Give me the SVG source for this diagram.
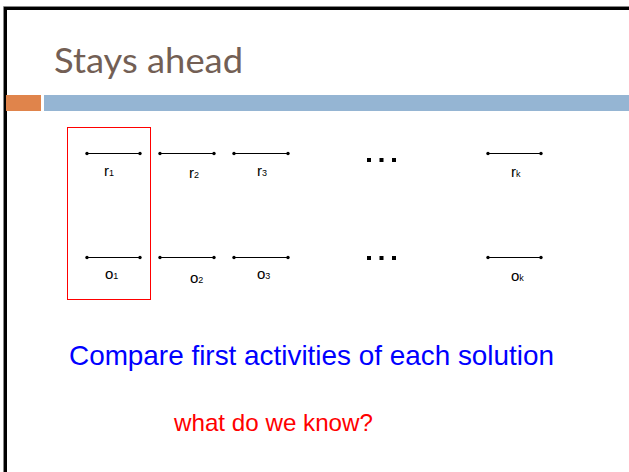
<svg xmlns="http://www.w3.org/2000/svg" width="629" height="472" viewBox="0 0 629 472">
  <style>
    .seg { stroke: #000; stroke-width: 1; fill: none; }
    .dot { fill: #000; }
    .lbl { font-family: "Liberation Sans", Arial, sans-serif; font-size: 15px; fill: #000; }
    .sub { font-size: 9px; }
    .ell { fill: #000; }
  </style>
  <rect x="0" y="0" width="629" height="472" fill="#fff"/>
  <g id="frame">
    <path d="M3.5,472 V6.5 H629" fill="none" stroke="#888" stroke-width="1"/>
    <path d="M5.5,472 V8.5 H629" fill="none" stroke="#000" stroke-width="3"/>
  </g>
  <g id="title">
    <text x="54" y="73" font-family="Lato, 'DejaVu Sans', sans-serif" font-size="34" fill="#735f55" textLength="189" lengthAdjust="spacingAndGlyphs">Stays ahead</text>
  </g>
  <g id="bars">
    <rect x="6" y="95" width="35" height="16" fill="#e0844b"/>
    <rect x="44" y="95" width="585" height="16" fill="#95b5d3"/>
  </g>
  <g id="highlight">
    <rect x="67.5" y="127.5" width="83" height="172" fill="none" stroke="#ff0000" stroke-width="1"/>
  </g>
  <g id="connectors">
    <g id="seg-r1"><line class="seg" x1="87" y1="153.5" x2="140" y2="153.5"/><circle class="dot" cx="87" cy="153.5" r="1.7"/><circle class="dot" cx="140" cy="153.5" r="1.7"/></g>
    <g id="seg-r2"><line class="seg" x1="160" y1="153.5" x2="214" y2="153.5"/><circle class="dot" cx="160" cy="153.5" r="1.7"/><circle class="dot" cx="214" cy="153.5" r="1.7"/></g>
    <g id="seg-r3"><line class="seg" x1="234" y1="153.5" x2="288" y2="153.5"/><circle class="dot" cx="234" cy="153.5" r="1.7"/><circle class="dot" cx="288" cy="153.5" r="1.7"/></g>
    <g id="seg-rk"><line class="seg" x1="488" y1="153.5" x2="541" y2="153.5"/><circle class="dot" cx="488" cy="153.5" r="1.7"/><circle class="dot" cx="541" cy="153.5" r="1.7"/></g>
    <g id="seg-o1"><line class="seg" x1="87" y1="257.5" x2="140" y2="257.5"/><circle class="dot" cx="87" cy="257.5" r="1.7"/><circle class="dot" cx="140" cy="257.5" r="1.7"/></g>
    <g id="seg-o2"><line class="seg" x1="160" y1="257.5" x2="214" y2="257.5"/><circle class="dot" cx="160" cy="257.5" r="1.7"/><circle class="dot" cx="214" cy="257.5" r="1.7"/></g>
    <g id="seg-o3"><line class="seg" x1="234" y1="257.5" x2="288" y2="257.5"/><circle class="dot" cx="234" cy="257.5" r="1.7"/><circle class="dot" cx="288" cy="257.5" r="1.7"/></g>
    <g id="seg-ok"><line class="seg" x1="488" y1="257.5" x2="541" y2="257.5"/><circle class="dot" cx="488" cy="257.5" r="1.7"/><circle class="dot" cx="541" cy="257.5" r="1.7"/></g>
  </g>
  <g id="r1"><text class="lbl" x="104" y="176">r<tspan class="sub">1</tspan></text></g>
  <g id="r2"><text class="lbl" x="189" y="178">r<tspan class="sub">2</tspan></text></g>
  <g id="r3"><text class="lbl" x="257" y="176">r<tspan class="sub">3</tspan></text></g>
  <g id="rk"><text class="lbl" x="511" y="177">r<tspan class="sub">k</tspan></text></g>
  <g id="o1"><text class="lbl" x="105" y="279">o<tspan class="sub">1</tspan></text></g>
  <g id="o2"><text class="lbl" x="190" y="283">o<tspan class="sub">2</tspan></text></g>
  <g id="o3"><text class="lbl" x="257" y="279">o<tspan class="sub">3</tspan></text></g>
  <g id="ok"><text class="lbl" x="511" y="281">o<tspan class="sub">k</tspan></text></g>
  <g id="ellipsis-r">
    <rect class="ell" x="367" y="158" width="4" height="4"/>
    <rect class="ell" x="379.5" y="158" width="4" height="4"/>
    <rect class="ell" x="392" y="158" width="4" height="4"/>
  </g>
  <g id="ellipsis-o">
    <rect class="ell" x="367" y="256" width="4" height="4"/>
    <rect class="ell" x="379.5" y="256" width="4" height="4"/>
    <rect class="ell" x="392" y="256" width="4" height="4"/>
  </g>
  <g id="caption">
    <text x="69" y="365" font-family="'Liberation Sans', Arial, sans-serif" font-size="28" fill="#0000ff" textLength="485" lengthAdjust="spacingAndGlyphs">Compare first activities of each solution</text>
  </g>
  <g id="question">
    <text x="174" y="431" font-family="'Liberation Sans', Arial, sans-serif" font-size="24" fill="#ff0000" textLength="199" lengthAdjust="spacingAndGlyphs">what do we know?</text>
  </g>
</svg>
